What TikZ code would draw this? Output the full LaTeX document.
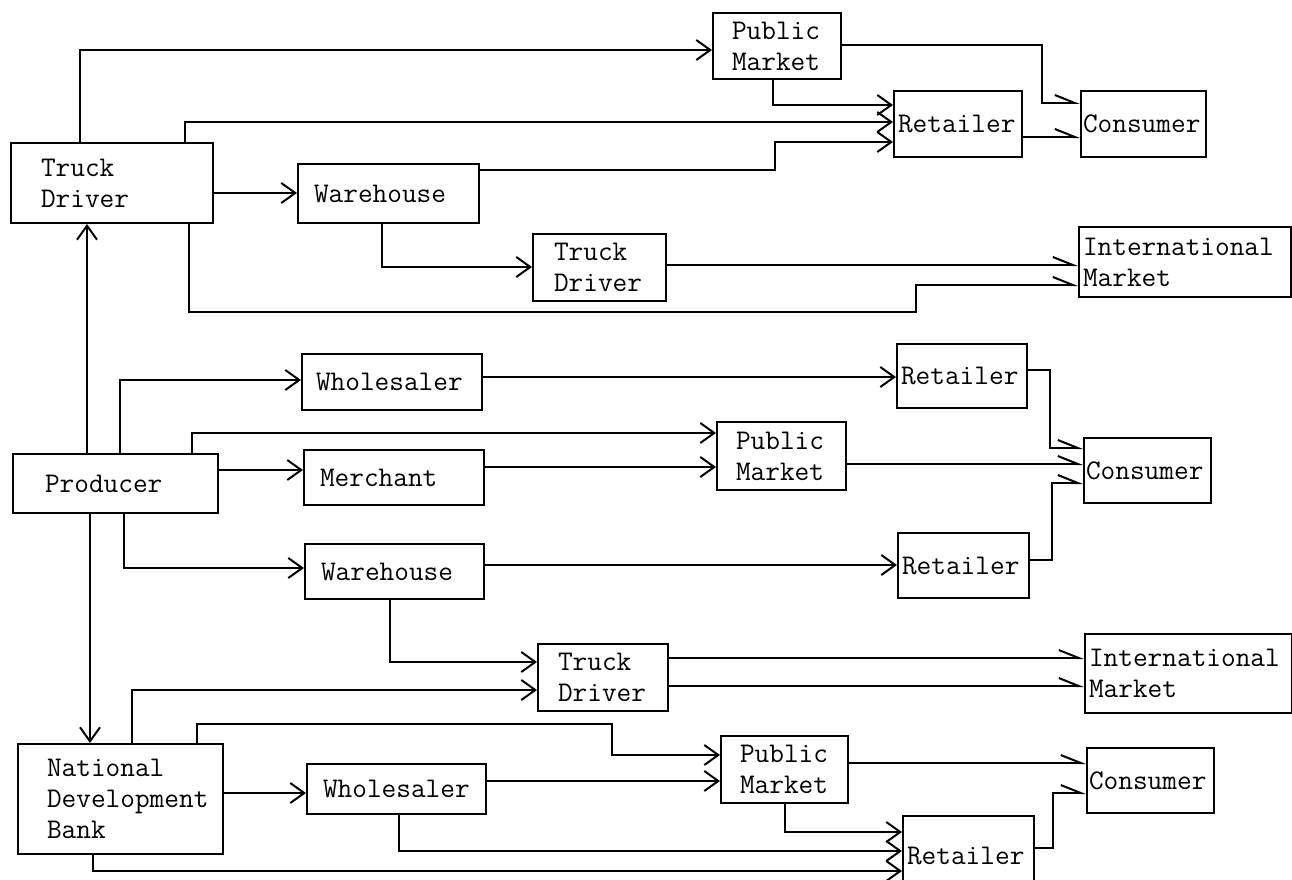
\documentclass[tikz,border=0pt]{standalone}
\usepackage{fontspec}
\usetikzlibrary{arrows.meta}
\tikzset{
  box/.style={draw, line width=2pt, font={\ttfamily\fontsize{28.5}{31}\selectfont\hyphenchar\font=-1}, inner ysep=0pt, align=left},
  link/.style={line width=2pt},
  arr/.style={link, -{Straight Barb[length=14pt,width=20pt]}},
  harr/.style={link, -{Straight Barb[harpoon,length=20pt,width=16pt]}},
}
\newcommand\mybox[7]{%
  \pgfmathsetmacro\mytw{#4-2*#6}%
  \node[box, anchor=north west, minimum width=#4pt, minimum height=#5pt, inner xsep=#6pt, text width=\mytw pt] (#1) at (#2,#3) {#7};}
\begin{document}
\begin{tikzpicture}[x=1pt,y=-1pt]
\fill[white] (0,0) rectangle (1292,880);
\useasboundingbox (0,0) rectangle (1292,880);
% ---- boxes, top block
\mybox{TDa}{10}{142}{202}{80}{30}{Truck\\Driver}
\mybox{PMa}{712}{12}{128}{66}{19}{Public\\Market}
\mybox{Ra}{893}{90}{128}{66}{4}{Retailer}
\mybox{Ca}{1080}{90}{125}{66}{2}{Consumer}
\mybox{Wa}{297}{163}{181}{59}{16}{Warehouse}
\mybox{TDb}{532}{233}{133}{67}{21}{Truck\\Driver}
\mybox{IMa}{1078}{226}{212}{70}{4}{International\\Market}
% ---- middle block
\mybox{Prod}{12}{453}{205}{59}{32}{Producer}
\mybox{WSa}{301}{353}{180}{56}{14}{Wholesaler}
\mybox{Merch}{303}{449}{180}{55}{16}{Merchant}
\mybox{Wb}{304}{543}{179}{55}{16}{Warehouse}
\mybox{Rb}{896}{343}{130}{64}{4}{Retailer}
\mybox{PMb}{716}{421}{129}{68}{19}{Public\\Market}
\mybox{Cb}{1083}{437}{127}{65}{2}{Consumer}
\mybox{Rc}{897}{532}{131}{65}{4}{Retailer}
\mybox{TDc}{537}{643}{130}{67}{20}{Truck\\Driver}
\mybox{IMb}{1084}{633}{207}{79}{4}{International\\Market}
% ---- bottom block
\mybox{NDB}{17}{743}{205}{110}{29}{National\\Development\\Bank}
\mybox{WSb}{306}{763}{179}{50}{16}{Wholesaler}
\mybox{PMc}{720}{735}{127}{67}{19}{Public\\Market}
\mybox{Cc}{1086}{747}{127}{65}{2}{Consumer}
\mybox{Rd}{902}{815}{131}{80}{4}{Retailer}
% ---- connectors, top block
\draw[arr] (TDa.north -| 80,0) |- (PMa.west |- 0,50);
\draw[arr] (TDa.north -| 185,0) |- (Ra.west |- 0,122);
\draw[arr] (TDa.east |- 0,193) -- (Wa.west |- 0,193);
\draw[arr] (Wa.east |- 0,170) -- (775,170) |- (Ra.west |- 0,142);
\draw[arr] (PMa.south -| 773,0) |- (Ra.west |- 0,105);
\draw[harr] (PMa.east |- 0,45) -- (1042,45) |- (Ca.west |- 0,103);
\draw[harr] (Ra.east |- 0,137) -- (Ca.west |- 0,137);
\draw[arr] (Wa.south -| 382,0) |- (TDb.west |- 0,267);
\draw[harr] (TDb.east |- 0,265) -- (IMa.west |- 0,265);
\draw[harr] (TDa.south -| 189,0) |- (916,312) |- (IMa.west |- 0,285);
\draw[arr] (Prod.north -| 87,0) -- (TDa.south -| 87,0);
% ---- connectors, middle block
\draw[arr] (Prod.north -| 120,0) |- (WSa.west |- 0,380);
\draw[arr] (Prod.north -| 192,0) |- (PMb.west |- 0,433);
\draw[arr] (Prod.east |- 0,470) -- (Merch.west |- 0,470);
\draw[arr] (Merch.east |- 0,467) -- (PMb.west |- 0,467);
\draw[arr] (Prod.south -| 124,0) |- (Wb.west |- 0,568);
\draw[arr] (WSa.east |- 0,377) -- (Rb.west |- 0,377);
\draw[arr] (Wb.east |- 0,565) -- (Rc.west |- 0,565);
\draw[harr] (Rb.east |- 0,370) -- (1050,370) |- (Cb.west |- 0,448);
\draw[harr] (PMb.east |- 0,464) -- (Cb.west |- 0,464);
\draw[harr] (Rc.east |- 0,560) -- (1052,560) |- (Cb.west |- 0,483);
\draw[arr] (Wb.south -| 390,0) |- (TDc.west |- 0,662);
\draw[harr] (TDc.east |- 0,658) -- (IMb.west |- 0,658);
\draw[harr] (TDc.east |- 0,686) -- (IMb.west |- 0,686);
\draw[arr] (Prod.south -| 90,0) -- (NDB.north -| 90,0);
% ---- connectors, bottom block
\draw[arr] (NDB.north -| 132,0) |- (TDc.west |- 0,690);
\draw[arr] (NDB.north -| 197,0) |- (612,724) |- (PMc.west |- 0,755);
\draw[arr] (NDB.east |- 0,793) -- (WSb.west |- 0,793);
\draw[arr] (WSb.east |- 0,781) -- (PMc.west |- 0,781);
\draw[arr] (WSb.south -| 399,0) |- (Rd.west |- 0,851);
\draw[arr] (NDB.south -| 93,0) |- (Rd.west |- 0,871);
\draw[arr] (PMc.south -| 785,0) |- (Rd.west |- 0,832);
\draw[harr] (PMc.east |- 0,763) -- (Cc.west |- 0,763);
\draw[harr] (Rd.east |- 0,848) -- (1053,848) |- (Cc.west |- 0,793);
\end{tikzpicture}
\end{document}
